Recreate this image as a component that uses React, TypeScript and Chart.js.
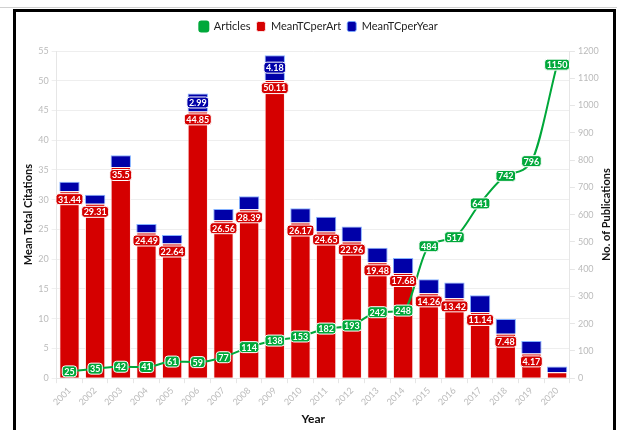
import React, { useEffect, useRef } from "react";
import { Chart, registerables } from "chart.js";

Chart.register(...registerables);

const years = ["2001","2002","2003","2004","2005","2006","2007","2008","2009","2010","2011","2012","2013","2014","2015","2016","2017","2018","2019","2020"];
const meanTCperArt = [31.44,29.31,35.5,24.49,22.64,44.85,26.56,28.39,50.11,26.17,24.65,22.96,19.48,17.68,14.26,13.42,11.14,7.48,4.17,0.98];
const meanTCperYear = [1.57,1.54,1.97,1.44,1.42,2.99,1.9,2.18,4.18,2.38,2.47,2.55,2.44,2.53,2.38,2.68,2.79,2.49,2.09,0.98];
const articles = [25,35,42,41,61,59,77,114,138,153,182,193,242,248,484,517,641,742,796,1150];
const leftTicks = { min: 0, max: 55, step: 5 };
const rightTicks = { min: 0, max: 1200, step: 100 };

const RED = "#d50000";
const BLUE = "#0000a8";
const GREEN = "#00a83a";
const FONT = "Lato";
const RIGHT_TITLE = "No. of Publications";

function drawLabel(ctx: CanvasRenderingContext2D, text: string, x: number, y: number, fill: string) {
  ctx.save();
  ctx.font = `bold 9px ${FONT}`;
  const w = ctx.measureText(text).width + 4;
  const h = 11;
  const rx = x - w / 2;
  const ry = y - h / 2;
  ctx.beginPath();
  (ctx as any).roundRect(rx, ry, w, h, 3);
  ctx.fillStyle = fill;
  ctx.fill();
  ctx.lineWidth = 1;
  ctx.strokeStyle = "#ffffff";
  ctx.stroke();
  ctx.fillStyle = "#ffffff";
  ctx.textAlign = "center";
  ctx.textBaseline = "middle";
  ctx.fillText(text, x, y + 0.5);
  ctx.restore();
}

const labelPlugin = {
  id: "boxLabels",
  beforeInit(chart: any) {
    const legend = chart.legend;
    if (legend) {
      const origFit = legend.fit;
      legend.fit = function () {
        origFit.call(this);
        this.height += 9;
      };
    }
  },
  afterDatasetsDraw(chart: any) {
    const ctx = chart.ctx;
    const redMeta = chart.getDatasetMeta(1);
    redMeta.data.forEach((bar: any, i: number) => {
      if (meanTCperArt[i] < 2) return;
      drawLabel(ctx, String(meanTCperArt[i]), bar.x, bar.y + 8, RED);
    });
    const blueMeta = chart.getDatasetMeta(2);
    blueMeta.data.forEach((bar: any, i: number) => {
      if (meanTCperYear[i] < 2.9) return;
      drawLabel(ctx, String(meanTCperYear[i]), bar.x, (bar.y + bar.base) / 2, BLUE);
    });
    const lineMeta = chart.getDatasetMeta(0);
    lineMeta.data.forEach((pt: any, i: number) => {
      drawLabel(ctx, String(articles[i]), pt.x, pt.y, GREEN);
    });
  },
  afterDraw(chart: any) {
    const ctx = chart.ctx;
    const sc = chart.scales.y1;
    const area = chart.chartArea;
    ctx.save();
    ctx.font = `bold 11px ${FONT}`;
    ctx.fillStyle = "#111";
    ctx.textAlign = "center";
    ctx.textBaseline = "middle";
    ctx.translate(sc.right - 9, (area.top + area.bottom) / 2);
    ctx.rotate(-Math.PI / 2);
    ctx.fillText(RIGHT_TITLE, 0, 0);
    ctx.restore();
  },
};

export default function App() {
  const ref = useRef<HTMLCanvasElement | null>(null);
  useEffect(() => {
    if (!ref.current) return;
    const chart = new Chart(ref.current, {
      type: "bar",
      data: {
        labels: years,
        datasets: [
          {
            type: "line",
            label: "Articles",
            data: articles,
            yAxisID: "y1",
            borderColor: GREEN,
            backgroundColor: GREEN,
            borderWidth: 2,
            pointRadius: 0,
            cubicInterpolationMode: "monotone",
            order: 0,
          } as any,
          {
            label: "MeanTCperArt",
            data: meanTCperArt,
            yAxisID: "y",
            stack: "s",
            backgroundColor: RED,
            borderColor: "rgba(255,235,235,0.9)",
            borderWidth: 1,
            barPercentage: 0.9,
            categoryPercentage: 0.88,
            order: 1,
          },
          {
            label: "MeanTCperYear",
            data: meanTCperYear,
            yAxisID: "y",
            stack: "s",
            backgroundColor: BLUE,
            borderColor: "rgba(120,170,255,0.9)",
            borderWidth: 1,
            barPercentage: 0.9,
            categoryPercentage: 0.88,
            order: 2,
          },
        ],
      },
      options: {
        animation: false,
        responsive: false,
        maintainAspectRatio: false,
        layout: { padding: { left: 22, right: 2, top: 15, bottom: 4 } },
        plugins: {
          legend: {
            position: "top",
            labels: {
              boxWidth: 9,
              boxHeight: 10,
              useBorderRadius: true,
              borderRadius: 2,
              color: "#222",
              font: { family: FONT, size: 11 },
              padding: 6,
            },
          },
          tooltip: { enabled: false },
        },
        scales: {
          x: {
            stacked: true,
            grid: { drawOnChartArea: false, color: "#e6e6e6", tickLength: 5 },
            border: { color: "#e6e6e6" },
            ticks: { color: "#bbbbbb", font: { family: FONT, size: 9 }, maxRotation: 45, minRotation: 45, padding: 2 },
            title: { display: true, text: "Year", color: "#111", padding: { top: 2, bottom: 0 }, font: { family: FONT, size: 12, weight: "bold" } },
          },
          y: {
            stacked: true,
            min: leftTicks.min,
            max: leftTicks.max,
            ticks: { stepSize: leftTicks.step, color: "#bbbbbb", font: { family: FONT, size: 9 } },
            grid: { color: "#eeeeee", tickLength: 5 },
            border: { color: "#e6e6e6" },
            title: { display: true, text: "Mean Total Citations", color: "#111", padding: 0, font: { family: FONT, size: 11, weight: "bold" } },
          },
          y1: {
            position: "right",
            min: rightTicks.min,
            max: rightTicks.max,
            ticks: { stepSize: rightTicks.step, color: "#bbbbbb", font: { family: FONT, size: 9 }, callback: (v: any) => String(v) },
            grid: { drawOnChartArea: false, color: "#e6e6e6", tickLength: 5 },
            border: { color: "#e6e6e6" },
            title: { display: true, text: RIGHT_TITLE, color: "rgba(0,0,0,0)", padding: 0, font: { family: FONT, size: 11, weight: "bold" } },
          },
        },
      },
      plugins: [labelPlugin],
    });
    return () => chart.destroy();
  }, []);
  return (
    <div style={{ position: "fixed", left: 0, top: 0, width: 617, height: 430, background: "#fff", overflow: "hidden" }}>
      <canvas ref={ref} width={617} height={430} style={{ position: "absolute", left: 0, top: 0, width: 617, height: 430 }} />
      <div style={{ position: "absolute", left: 0, top: 7, width: 617, height: 1, background: "#d0d0d0" }} />
      <div style={{ position: "absolute", left: 13, top: 9, width: 597, height: 440, borderTop: "3px solid #000", borderLeft: "3px solid #000", borderRight: "3px solid #000", pointerEvents: "none" }} />
    </div>
  );
}
